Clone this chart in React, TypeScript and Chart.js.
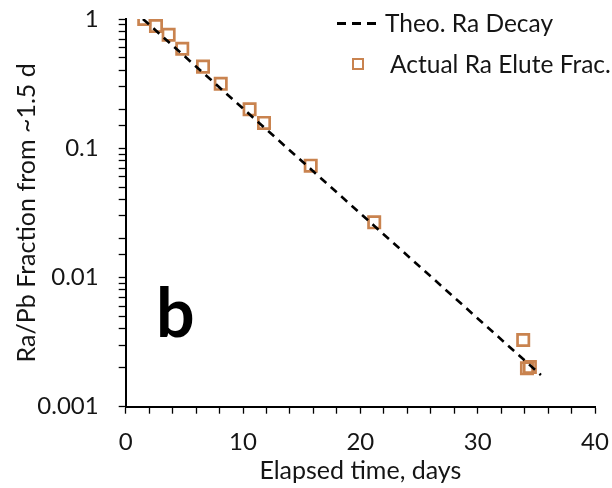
import React, { useEffect, useRef } from 'react';
import { Chart, registerables } from 'chart.js';

Chart.register(...registerables);

// Theoretical Ra decay line (endpoints)
const theoDays = [1.47, 35.39];
const theoFrac = [1.0, 0.00176];

// Actual Ra elute fraction measurements
const actualDays = [1.58, 2.58, 3.66, 4.82, 6.59, 8.1, 10.56, 11.79, 15.77, 21.18, 33.88, 34.2, 34.45];
const actualFrac = [1.0, 0.883, 0.756, 0.589, 0.428, 0.315, 0.2, 0.157, 0.0733, 0.0267, 0.00328, 0.00198, 0.00203];

const xTickLabels = [0, 10, 20, 30, 40];
const yTickLabels = [0.001, 0.01, 0.1, 1];

const FONT = 'Lato, "Open Sans", sans-serif';
const MARKER = '#C9834F';
const TEXT = '#151515';

export default function App() {
  const ref = useRef<HTMLCanvasElement | null>(null);

  useEffect(() => {
    document.body.style.margin = '0';
    const canvas = ref.current;
    if (!canvas) return;
    const chart = new Chart(canvas, {
      type: 'scatter',
      data: {
        datasets: [
          {
            type: 'line',
            label: 'Theo. Ra Decay',
            data: theoDays.map((d, i) => ({ x: d, y: theoFrac[i] })),
            borderColor: '#000',
            borderWidth: 2.6,
            borderDash: [8, 6],
            pointRadius: 0,
            fill: false,
          },
          {
            type: 'scatter',
            label: 'Actual Ra Elute Frac.',
            data: actualDays.map((d, i) => ({ x: d, y: actualFrac[i] })),
            pointStyle: 'rect',
            pointRadius: 8,
            borderColor: MARKER,
            borderWidth: 2.7,
            backgroundColor: 'rgba(255,255,255,0)',
          },
        ],
      },
      options: {
        responsive: false,
        animation: false,
        layout: { padding: { left: 0, right: 17, top: 19, bottom: 0 } },
        plugins: { legend: { display: false }, tooltip: { enabled: false } },
        scales: {
          x: {
            type: 'linear',
            min: 0,
            max: 40,
            afterFit: (s: any) => {
              s.height = 81.3;
              s.paddingLeft = 0;
              s.paddingRight = 0;
            },
            border: { display: true, color: '#000', width: 2 },
            grid: {
              drawOnChartArea: false,
              drawTicks: true,
              tickLength: 7,
              tickColor: '#000',
              tickWidth: 1.3,
            },
            ticks: {
              stepSize: 2,
              autoSkip: false,
              maxRotation: 0,
              padding: 14,
              color: TEXT,
              font: { family: FONT, size: 24 },
              callback: (v: any) => (xTickLabels.includes(Number(v)) ? String(v) : ''),
            },
            title: {
              display: true,
              text: 'Elapsed time, days',
              color: TEXT,
              font: { family: FONT, size: 25 },
              padding: { top: 0, bottom: 2 },
            },
          },
          y: {
            type: 'logarithmic',
            min: 0.001,
            max: 1,
            afterFit: (s: any) => {
              s.width = 125.7;
              s.paddingTop = 0;
              s.paddingBottom = 0;
            },
            border: { display: true, color: '#000', width: 2 },
            grid: {
              drawOnChartArea: false,
              drawTicks: true,
              tickLength: 7,
              tickColor: '#000',
              tickWidth: 1.3,
            },
            ticks: {
              autoSkip: false,
              padding: 20,
              color: TEXT,
              font: { family: FONT, size: 24 },
              callback: (v: any) => {
                const n = Number(v);
                const hit = yTickLabels.find((l) => Math.abs(n - l) / l < 1e-6);
                return hit !== undefined ? String(hit) : '';
              },
            },
            title: {
              display: true,
              text: 'Ra/Pb Fraction from ~1.5 d',
              color: TEXT,
              font: { family: FONT, size: 25 },
              padding: { top: 12, bottom: 0 },
            },
          },
        },
      },
    });
    return () => chart.destroy();
  }, []);

  const textStyle: React.CSSProperties = {
    position: 'absolute',
    fontFamily: FONT,
    fontSize: 24.5,
    color: TEXT,
    lineHeight: '30px',
    whiteSpace: 'nowrap',
  };

  return (
    <div style={{ position: 'relative', width: 612, height: 488, background: '#fff' }}>
      <canvas ref={ref} width={612} height={488} style={{ position: 'absolute', left: 0, top: 0 }} />
      {/* legend */}
      {[0, 1, 2].map((i) => (
        <div
          key={i}
          style={{ position: 'absolute', left: 337 + i * 15, top: 22, width: 9, height: 2.5, background: '#000' }}
        />
      ))}
      <div style={{ ...textStyle, left: 385, top: 8 }}>Theo. Ra Decay</div>
      <div
        style={{
          position: 'absolute',
          left: 352,
          top: 58,
          width: 8,
          height: 8,
          border: `2.7px solid ${MARKER}`,
        }}
      />
      <div style={{ ...textStyle, left: 390, top: 49 }}>Actual Ra Elute Frac.</div>
      {/* panel label */}
      <div
        style={{
          position: 'absolute',
          left: 156,
          top: 271,
          fontFamily: FONT,
          fontWeight: 'bold',
          fontSize: 68,
          lineHeight: '80px',
          color: '#000',
        }}
      >
        b
      </div>
    </div>
  );
}
